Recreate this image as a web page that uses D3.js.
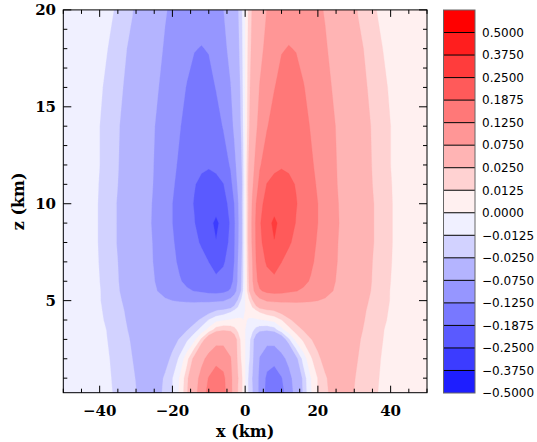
<!DOCTYPE html>
<html lang="en">
<head>
<meta charset="UTF-8">
<title>Contour x-z</title>
<script src="https://d3js.org/d3.v7.min.js"></script>
<style>
  body { margin: 0; background: #fff; }
  .tick-label { font-family: "DejaVu Serif", serif; font-weight: bold; font-size: 15px; }
  .axis-title { font-family: "DejaVu Serif", serif; font-weight: bold; font-size: 16px; }
  .cb-label { font-family: "DejaVu Sans", sans-serif; font-size: 12px; }
</style>
</head>
<body>
<svg width="537" height="442"></svg>
<script>
// grid: right half (x >= 0); the field is antisymmetric in x
const xKm = [0, 0.5, 1, 2, 3, 4, 6, 8, 10, 12, 14, 16, 18, 20, 22, 25, 28, 31, 35, 40, 45, 50];
const zKm = [0.25, 1, 2, 3, 3.5, 4, 4.5, 5, 5.5, 6, 7, 8, 9, 10, 11, 12, 14, 16, 18, 20];
const rightHalf = [
  [0, -.008, -.015, -.024, -.05, -.09, -.14, -.165, -.14, -.1, -.058, -.022, -.002, .013, .022, .032, .03, .022, .014, .009, .006, .004],
  [0, -.008, -.015, -.026, -.052, -.088, -.135, -.15, -.128, -.092, -.052, -.02, -.001, .013, .023, .034, .031, .023, .0145, .009, .006, .004],
  [0, -.006, -.011, -.02, -.045, -.078, -.105, -.11, -.09, -.062, -.03, -.008, .01, .022, .03, .038, .034, .025, .015, .0095, .006, .004],
  [0, -.004, -.008, -.02, -.035, -.05, -.06, -.058, -.04, -.015, .004, .015, .024, .03, .036, .041, .037, .027, .016, .01, .006, .004],
  [0, -.002, -.004, -.01, -.016, -.02, -.022, -.018, -.004, .008, .018, .026, .033, .038, .042, .045, .04, .029, .017, .01, .0065, .004],
  [0, 0, -.001, -.002, -.002, -.001, .001, .004, .012, .022, .03, .036, .041, .045, .048, .048, .043, .031, .018, .011, .007, .004],
  [0, .002, .004, .008, .012, .016, .022, .026, .032, .038, .044, .048, .05, .052, .053, .052, .046, .033, .019, .0115, .007, .0045],
  [0, .005, .01, .022, .04, .06, .078, .082, .083, .083, .082, .08, .078, .075, .07, .062, .05, .036, .021, .012, .0075, .0045],
  [0, .011, .021, .058, .098, .12, .135, .14, .138, .132, .126, .12, .112, .1, .088, .07, .055, .04, .023, .012, .008, .005],
  [0, .012, .024, .07, .115, .14, .165, .175, .168, .155, .143, .133, .122, .108, .093, .074, .058, .042, .024, .0125, .008, .005],
  [0, .013, .027, .075, .125, .16, .195, .21, .188, .168, .155, .143, .132, .116, .098, .077, .06, .043, .025, .0128, .008, .005],
  [0, .014, .03, .085, .13, .172, .22, .248, .228, .195, .172, .158, .14, .12, .1, .078, .061, .044, .026, .013, .008, .005],
  [0, .014, .03, .088, .132, .18, .232, .26, .235, .213, .185, .168, .146, .125, .104, .08, .062, .045, .026, .013, .008, .005],
  [0, .014, .028, .082, .125, .168, .212, .23, .225, .21, .19, .172, .148, .125, .104, .079, .061, .044, .026, .013, .008, .005],
  [0, .015, .03, .068, .105, .138, .19, .207, .208, .197, .185, .168, .142, .118, .1, .077, .059, .043, .025, .0128, .008, .005],
  [0, .014, .027, .06, .088, .12, .15, .172, .182, .18, .17, .155, .133, .113, .097, .076, .058, .042, .024, .0125, .008, .005],
  [0, .011, .021, .042, .068, .09, .122, .145, .16, .165, .158, .142, .122, .106, .091, .074, .057, .04, .023, .0125, .008, .005],
  [0, .01, .019, .036, .056, .077, .105, .123, .142, .15, .142, .127, .114, .1, .085, .068, .05, .034, .02, .011, .008, .005],
  [0, .009, .017, .03, .046, .062, .088, .108, .122, .127, .123, .114, .102, .09, .078, .064, .047, .03, .017, .009, .007, .005],
  [0, .008, .015, .027, .04, .052, .076, .092, .102, .105, .102, .096, .088, .08, .073, .06, .042, .024, .0135, .009, .006, .004]
];
const levels = [-0.5, -0.375, -0.25, -0.1875, -0.125, -0.075, -0.025, -0.0125, 0,
                0.0125, 0.025, 0.075, 0.125, 0.1875, 0.25, 0.375, 0.5];
const xTicks = [-40, -20, 0, 20, 40];
const zTicks = [5, 10, 15, 20];

// fill for the band that starts at each level
const bandColors = ["#1e1eff", "#3c3cff", "#5a5aff", "#7878ff", "#9696ff", "#b4b4ff", "#d2d2ff", "#f0f0ff",
                    "#fff0f0", "#ffd2d2", "#ffb4b4", "#ff9696", "#ff7878", "#ff5a5a", "#ff3c3c", "#ff1e1e", "#ff0000"];

const svg = d3.select("svg");
const plot = { left: 63.3, right: 427, top: 9.9, bottom: 392.7 };

const x = d3.scaleLinear().domain([-50, 50]).range([plot.left, plot.right]);
const y = d3.scaleLinear().domain([0.25, 20]).range([plot.bottom, plot.top]);

// mirror the right half into a full grid
const xs = xKm.slice(1).reverse().map(v => -v).concat(xKm);
const nx = xs.length, nz = zKm.length;
const values = [];
rightHalf.forEach(row => {
  values.push(...row.slice(1).reverse().map(v => -v), ...row);
});

// grid index -> km (grid is not uniform)
const colX = d3.scaleLinear().domain(d3.range(nx)).range(xs).clamp(true);
const rowZ = d3.scaleLinear().domain(d3.range(nz)).range(zKm).clamp(true);

const contours = d3.contours().size([nx, nz]).thresholds(levels)(values);
const proj = d3.geoTransform({
  point(px, py) { this.stream.point(x(colX(px - 0.5)), y(rowZ(py - 0.5))); }
});
const path = d3.geoPath(proj);

svg.append("clipPath").attr("id", "clip")
  .append("rect")
  .attr("x", plot.left).attr("y", plot.top)
  .attr("width", plot.right - plot.left).attr("height", plot.bottom - plot.top);

svg.append("g").attr("clip-path", "url(#clip)")
  .selectAll("path")
  .data(contours)
  .join("path")
  .attr("d", path)
  .attr("fill", d => bandColors[levels.indexOf(d.value)])
  .attr("stroke", d => bandColors[levels.indexOf(d.value)])
  .attr("stroke-width", 0.3);

// frame and inward ticks on all four sides
const axes = svg.append("g").attr("stroke", "#000").attr("stroke-width", 1);
axes.append("rect")
  .attr("x", plot.left).attr("y", plot.top)
  .attr("width", plot.right - plot.left).attr("height", plot.bottom - plot.top)
  .attr("fill", "none");

d3.range(-50, 51, 5).forEach(v => {
  const len = v % 20 === 0 ? 7 : 4;
  axes.append("line").attr("x1", x(v)).attr("x2", x(v)).attr("y1", plot.bottom).attr("y2", plot.bottom - len);
  axes.append("line").attr("x1", x(v)).attr("x2", x(v)).attr("y1", plot.top).attr("y2", plot.top + len);
});
d3.range(1, 21, 1).forEach(v => {
  const len = v % 5 === 0 ? 8 : 4;
  axes.append("line").attr("y1", y(v)).attr("y2", y(v)).attr("x1", plot.left).attr("x2", plot.left + len);
  axes.append("line").attr("y1", y(v)).attr("y2", y(v)).attr("x1", plot.right).attr("x2", plot.right - len);
});

const fmtTick = d3.format("d");
svg.append("g").selectAll("text")
  .data(xTicks)
  .join("text")
  .attr("class", "tick-label")
  .attr("x", d => x(d))
  .attr("y", 416)
  .attr("text-anchor", "middle")
  .text(d => fmtTick(d));

svg.append("g").selectAll("text")
  .data(zTicks)
  .join("text")
  .attr("class", "tick-label")
  .attr("x", 56)
  .attr("y", d => y(d) + 5.5)
  .attr("text-anchor", "end")
  .text(d => fmtTick(d));

svg.append("text")
  .attr("class", "axis-title")
  .attr("x", (plot.left + plot.right) / 2)
  .attr("y", 437)
  .attr("text-anchor", "middle")
  .text("x (km)");

svg.append("text")
  .attr("class", "axis-title")
  .attr("transform", `translate(24,${(plot.top + plot.bottom) / 2}) rotate(-90)`)
  .attr("text-anchor", "middle")
  .text("z (km)");

// colour bar
const cb = { left: 443.5, right: 475, top: 10, bottom: 393 };
const boxH = (cb.bottom - cb.top) / levels.length;
const cbG = svg.append("g");
const order = levels.slice().reverse();

cbG.selectAll("rect.box")
  .data(order)
  .join("rect")
  .attr("class", "box")
  .attr("x", cb.left)
  .attr("y", (d, i) => cb.top + i * boxH)
  .attr("width", cb.right - cb.left)
  .attr("height", boxH)
  .attr("fill", d => bandColors[levels.indexOf(d)]);

cbG.selectAll("line")
  .data(order.slice(0, -1))
  .join("line")
  .attr("x1", cb.left).attr("x2", cb.right)
  .attr("y1", (d, i) => cb.top + (i + 1) * boxH)
  .attr("y2", (d, i) => cb.top + (i + 1) * boxH)
  .attr("stroke", "#000").attr("stroke-width", 1);

cbG.append("rect")
  .attr("x", cb.left).attr("y", cb.top)
  .attr("width", cb.right - cb.left).attr("height", cb.bottom - cb.top)
  .attr("fill", "none").attr("stroke", "#666").attr("stroke-width", 1);

const fmtLevel = d3.format(".4f");
cbG.selectAll("text")
  .data(order)
  .join("text")
  .attr("class", "cb-label")
  .attr("x", 482)
  .attr("y", (d, i) => cb.top + (i + 1) * boxH)
  .attr("dy", "0.36em")
  .text(d => fmtLevel(d));
</script>
</body>
</html>
